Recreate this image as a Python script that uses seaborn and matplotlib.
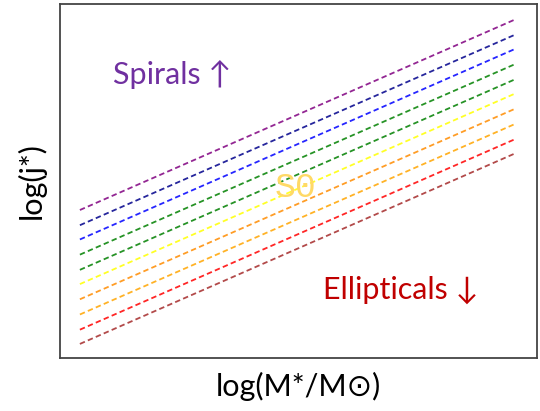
import matplotlib
matplotlib.use("Agg")
import matplotlib.pyplot as plt
import seaborn as sns
import pandas as pd

# log stellar mass range and the intercept of each j-M line at log M = 9
log_mass = [9.0, 12.0]
slope = 2.0 / 3.0
intercepts = [3.0, 2.84, 2.69, 2.53, 2.37, 2.22, 2.06, 1.90, 1.74, 1.59]
line_names = ["l0", "l1", "l2", "l3", "l4", "l5", "l6", "l7", "l8", "l9"]
line_colors = ["purple", "darkblue", "blue", "green", "green",
               "yellow", "darkorange", "orange", "red", "brown"]

rows = []
for name, b in zip(line_names, intercepts):
    for m in log_mass:
        rows.append({"line": name, "logM": m, "logj": b + slope * (m - log_mass[0])})
df = pd.DataFrame(rows)

sns.set_style("white")
plt.rcParams["font.family"] = ["Lato", "DejaVu Sans"]

fig = plt.figure(figsize=(5.4, 4.11), dpi=100)
ax = fig.add_axes([0.111, 0.129, 0.883, 0.861])

sns.lineplot(data=df, x="logM", y="logj", hue="line", palette=dict(zip(line_names, line_colors)),
             linestyle=(0, (3, 1.8)), linewidth=1.3, alpha=0.85, legend=False, ax=ax)

ax.set_xlim(8.862, 12.159)
ax.set_ylim(1.442, 5.168)
ax.set_xticks([])
ax.set_yticks([])
for s in ax.spines.values():
    s.set_color("#444444")
    s.set_linewidth(1.3)

ax.set_xlabel("log(M*/M\u2299)", fontsize=22, color="black", labelpad=10)
ax.set_ylabel("log(j*)", fontsize=22, color="black", labelpad=10)

ax.text(0.111, 0.80, "Spirals \u2191", transform=ax.transAxes, fontsize=22,
        color="#7030A0", va="center", ha="left")
ax.text(0.551, 0.192, "Ellipticals \u2193", transform=ax.transAxes, fontsize=22,
        color="#C00000", va="center", ha="left")
ax.text(0.493, 0.483, "S0", transform=ax.transAxes, fontsize=25, family="Liberation Mono",
        color="#FFD966", va="center", ha="center")

fig.savefig("out.png", dpi=100)
